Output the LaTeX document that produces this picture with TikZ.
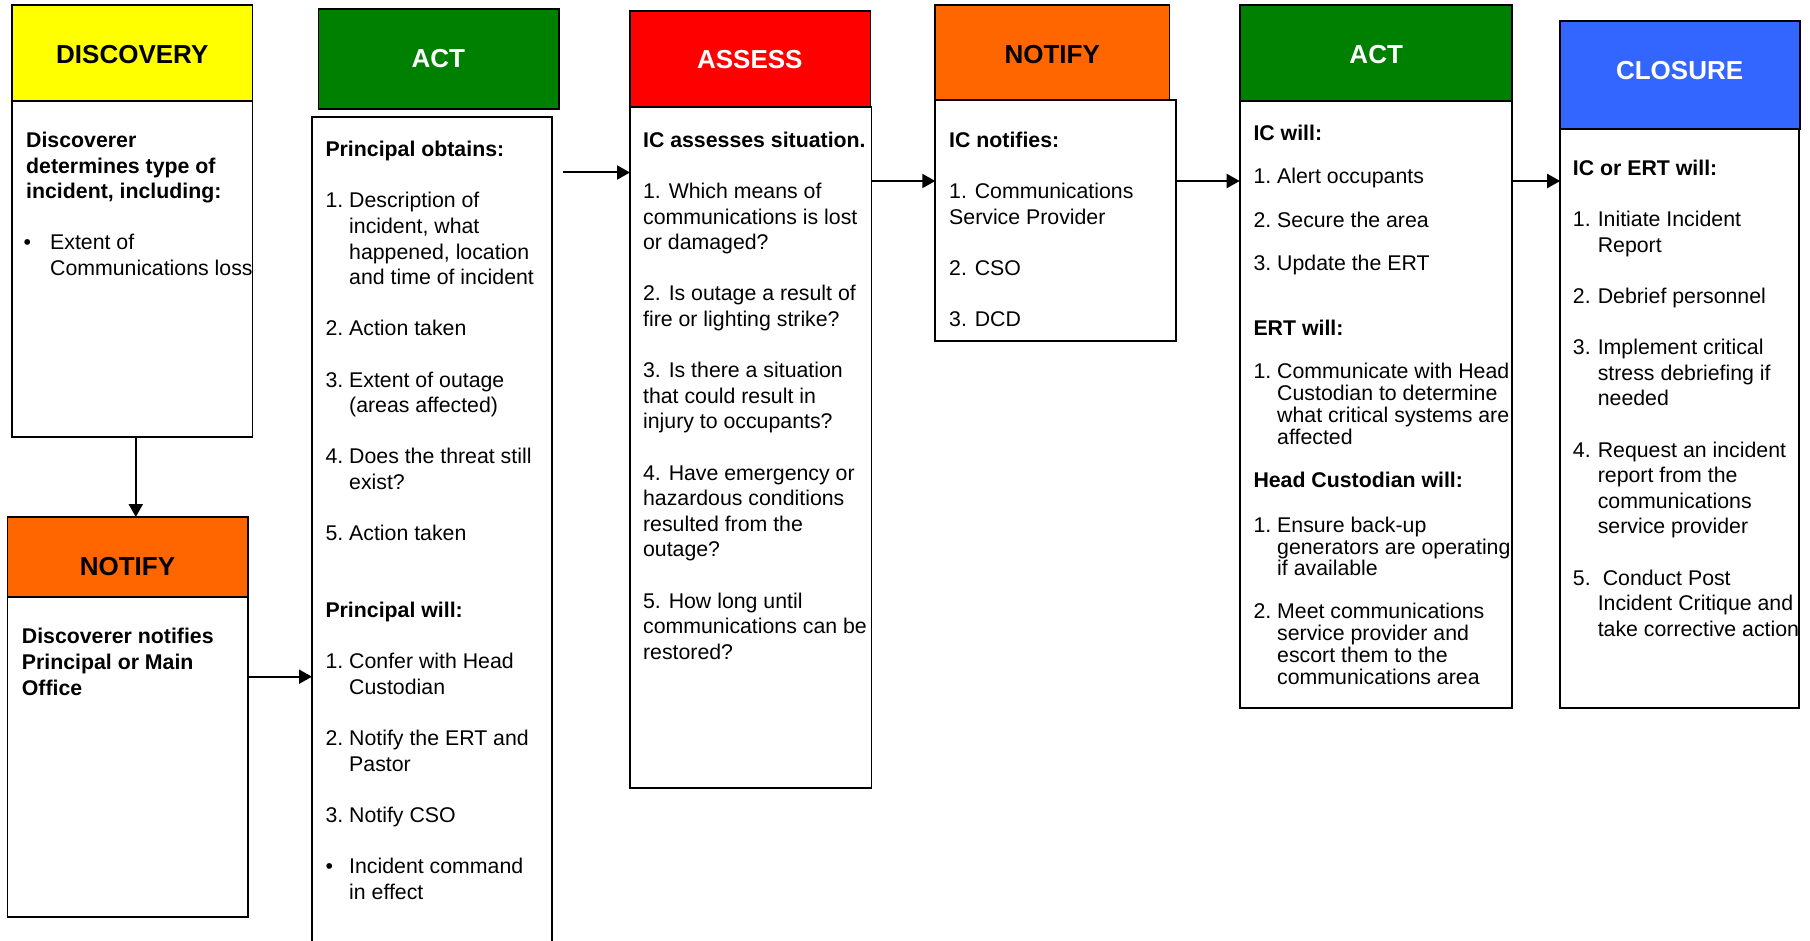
\documentclass[tikz,border=0pt]{standalone}
\usepackage{fontspec}
\setmainfont{Liberation Sans}
\usetikzlibrary{arrows.meta}

\definecolor{hdyellow}{HTML}{FFFF00}
\definecolor{hdgreen}{HTML}{008000}
\definecolor{hdred}{HTML}{FF0000}
\definecolor{hdorange}{HTML}{FF6600}
\definecolor{hdblue}{HTML}{3366FF}

% body text size and spacing
\newcommand\bodysize{\fontsize{21.3}{25.6}\selectfont}
% hanging label for numbered / bulleted lines
\newcommand\itemno[2][23.7pt]{\makebox[#1][l]{#2}}
% one blank line between paragraphs
\newcommand\gapline{\\[25.6pt]}

\tikzset{
  box/.style={draw=black, line width=1.8pt, inner sep=0pt, outer sep=0pt, anchor=north west},
  hdr/.style={box, fill=#1},
  bodybox/.style={box, fill=white},
  ttl/.style={font=\fontsize{26}{30}\selectfont\bfseries, inner sep=0pt},
  txt/.style={anchor=base west, inner sep=0pt, font=\bodysize},
  flow/.style={line width=2pt, -{Triangle[length=13pt,width=14pt]}},
}

\begin{document}
\begin{tikzpicture}[x=1pt, y=-1pt]
\useasboundingbox (0,0) rectangle (1810,941);
\fill[white] (0,0) rectangle (1810,941);
\clip (0,0) rectangle (1810,941);

% ---- column boxes: bodies then coloured headers ----
\node[bodybox, minimum width=240.5pt, minimum height=336pt]   (discbody) at (12,100.7) {};
\node[hdr=hdyellow, minimum width=240.5pt, minimum height=95.7pt] (dischead) at (12,5) {};

\node[bodybox, minimum width=240.5pt, minimum height=320pt]   (ntf1body) at (7.5,596.7) {};
\node[hdr=hdorange, minimum width=240.5pt, minimum height=79.7pt] (ntf1head) at (7.5,517) {};

\node[bodybox, minimum width=239.8pt, minimum height=870pt]   (act1body) at (312,116.7) {};
\node[hdr=hdgreen, minimum width=240.3pt, minimum height=100pt] (act1head) at (318.4,8.7) {};

\node[bodybox, minimum width=241.5pt, minimum height=681.6pt] (assbody) at (630,106.7) {};
\node[hdr=hdred, minimum width=240.5pt, minimum height=96pt]   (asshead) at (630,10.7) {};

\node[bodybox, minimum width=240.7pt, minimum height=240.7pt] (ntf2body) at (935.3,100) {};
\node[hdr=hdorange, minimum width=234.2pt, minimum height=95.3pt] (ntf2head) at (935.3,4.7) {};

\node[bodybox, minimum width=272.3pt, minimum height=607.6pt] (act2body) at (1239.7,100.7) {};
\node[hdr=hdgreen, minimum width=272.3pt, minimum height=96pt] (act2head) at (1239.7,4.7) {};

\node[bodybox, minimum width=238.8pt, minimum height=579pt]   (closbody) at (1560.2,129.3) {};
\node[hdr=hdblue, minimum width=239.6pt, minimum height=108.6pt] (closhead) at (1560.2,20.7) {};

% ---- titles ----
\node[ttl] (discttl) at (132.3,55) {DISCOVERY};
\node[ttl] (ntf1ttl) at (127.5,567) {NOTIFY};
\node[ttl, white] (act1ttl) at (438.3,58.5) {ACT};
\node[ttl, white] (assttl) at (749.8,59.7) {ASSESS};
\node[ttl] (ntf2ttl) at (1052.2,54.3) {NOTIFY};
\node[ttl, white] (act2ttl) at (1376.2,54.8) {ACT};
\node[ttl, white] (closttl) at (1679.6,70.7) {CLOSURE};

% ---- body texts ----
\node[txt] (disctxt) at (26,147.5) {\begin{tabular}[t]{@{}l@{}}
\textbf{Discoverer}\\
\textbf{determines type of}\\
\textbf{incident, including:}\gapline
\itemno[24pt]{\hspace{-2.5pt}•}Extent of\\
\itemno[24pt]{}Communications loss
\end{tabular}};

\node[txt] (ntf1txt) at (21.7,643.8) {\begin{tabular}[t]{@{}l@{}}
\textbf{Discoverer notifies}\\
\textbf{Principal or Main}\\
\textbf{Office}
\end{tabular}};

\node[txt] (act1txt) at (325.3,156.7) {\begin{tabular}[t]{@{}l@{}}
\textbf{Principal obtains:}\gapline
\itemno{1.}Description of\\
\itemno{}incident, what\\
\itemno{}happened, location\\
\itemno{}and time of incident\gapline
\itemno{2.}Action taken\gapline
\itemno{3.}Extent of outage\\
\itemno{}(areas affected)\gapline
\itemno{4.}Does the threat still\\
\itemno{}exist?\gapline
\itemno{5.}Action taken\\[51.2pt]
\textbf{Principal will:}\gapline
\itemno{1.}Confer with Head\\
\itemno{}Custodian\gapline
\itemno{2.}Notify the ERT and\\
\itemno{}Pastor\gapline
\itemno{3.}Notify CSO\gapline
\itemno{•}Incident command\\
\itemno{}in effect
\end{tabular}};

\node[txt] (asstxt) at (642.9,147.3) {\begin{tabular}[t]{@{}l@{}}
\textbf{IC assesses situation.}\gapline
1. Which means of\\
communications is lost\\
or damaged?\gapline
2. Is outage a result of\\
fire or lighting strike?\gapline
3. Is there a situation\\
that could result in\\
injury to occupants?\gapline
4. Have emergency or\\
hazardous conditions\\
resulted from the\\
outage?\gapline
5. How long until\\
communications can be\\
restored?
\end{tabular}};

\node[txt] (ntf2txt) at (949,147.3) {\begin{tabular}[t]{@{}l@{}}
\textbf{IC notifies:}\gapline
1. Communications\\
Service Provider\gapline
2. CSO\gapline
3. DCD
\end{tabular}};

\node[txt, font=\fontsize{21.3}{43.3}\selectfont] (act2ic) at (1253.3,140.5) {\begin{tabular}[t]{@{}l@{}}
\textbf{IC will:}\\
\itemno{1.}Alert occupants\\
\itemno{2.}Secure the area\\
\itemno{3.}Update the ERT
\end{tabular}};

\node[txt] (act2ert) at (1253.3,335.5) {\textbf{ERT will:}};

\node[txt, font=\fontsize{21.3}{21.6}\selectfont] (act2ertitem) at (1253.3,378.8) {\begin{tabular}[t]{@{}l@{}}
\itemno{1.}Communicate with Head\\
\itemno{}Custodian to determine\\
\itemno{}what critical systems are\\
\itemno{}affected
\end{tabular}};

\node[txt] (act2hc) at (1253.3,487.2) {\textbf{Head Custodian will:}};

\node[txt, font=\fontsize{21.3}{21.5}\selectfont] (act2hcone) at (1253.3,532.2) {\begin{tabular}[t]{@{}l@{}}
\itemno{1.}Ensure back-up\\
\itemno{}generators are operating\\
\itemno{}if available
\end{tabular}};

\node[txt, font=\fontsize{21.3}{21.5}\selectfont] (act2hctwo) at (1253.3,618.8) {\begin{tabular}[t]{@{}l@{}}
\itemno{2.}Meet communications\\
\itemno{}service provider and\\
\itemno{}escort them to the\\
\itemno{}communications area
\end{tabular}};

\node[txt] (clostxt) at (1572.7,175.5) {\begin{tabular}[t]{@{}l@{}}
\textbf{IC or ERT will:}\gapline
\itemno[24.9pt]{1.}Initiate Incident\\
\itemno[24.9pt]{}Report\gapline
\itemno[24.9pt]{2.}Debrief personnel\gapline
\itemno[24.9pt]{3.}Implement critical\\
\itemno[24.9pt]{}stress debriefing if\\
\itemno[24.9pt]{}needed\gapline
\itemno[24.9pt]{4.}Request an incident\\
\itemno[24.9pt]{}report from the\\
\itemno[24.9pt]{}communications\\
\itemno[24.9pt]{}service provider\gapline
\itemno[24.9pt]{5.}\hspace{5pt}Conduct Post\\
\itemno[24.9pt]{}Incident Critique and\\
\itemno[24.9pt]{}take corrective action
\end{tabular}};

% ---- connectors ----
\coordinate (dropx) at (135.8,0);
\draw[flow] (discbody.south -| dropx) -- (ntf1head.north -| dropx);

\coordinate (ntf1y) at (0,676.7);
\draw[flow] (ntf1body.east |- ntf1y) -- (act1body.west |- ntf1y);

\coordinate (act1out) at (562.6,172.5);
\draw[flow] (act1out) -- (act1out -| assbody.west);

\coordinate (rowy) at (0,181);
\draw[flow] (assbody.east |- rowy) -- (ntf2body.west |- rowy);
\draw[flow] (ntf2body.east |- rowy) -- (act2body.west |- rowy);
\draw[flow] (act2body.east |- rowy) -- (closbody.west |- rowy);
\end{tikzpicture}
\end{document}
